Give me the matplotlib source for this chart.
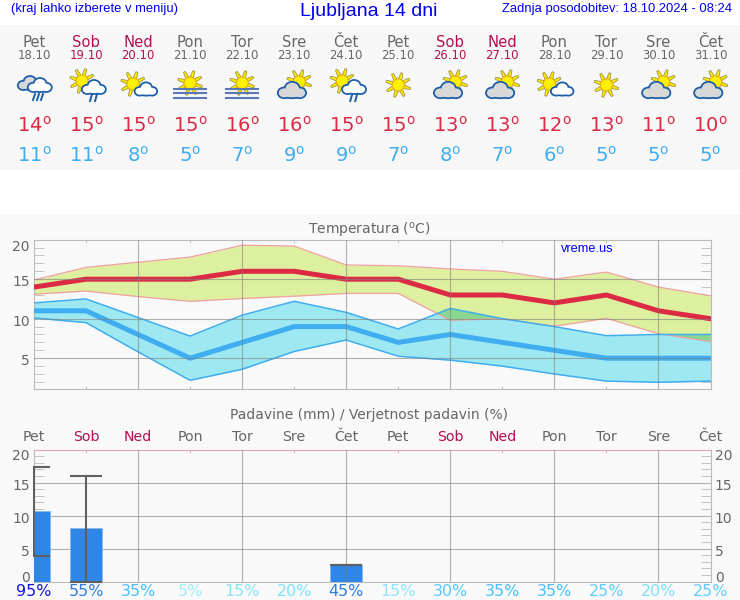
#!/usr/bin/env python3
"""
Ljubljana 14 day forecast: icons, temperature bands and precipitation
"""

import numpy as np
import matplotlib
matplotlib.use('Agg')
import matplotlib.pyplot as plt
from matplotlib.patches import Circle, Ellipse, Polygon, Rectangle
from matplotlib.transforms import Bbox, ScaledTranslation

W, H = 740, 600

days = ['Pet', 'Sob', 'Ned', 'Pon', 'Tor', 'Sre', 'Čet',
        'Pet', 'Sob', 'Ned', 'Pon', 'Tor', 'Sre', 'Čet']
dates = ['18.10', '19.10', '20.10', '21.10', '22.10', '23.10', '24.10',
         '25.10', '26.10', '27.10', '28.10', '29.10', '30.10', '31.10']
icons = ['rain', 'sunrain', 'suncloud', 'fog', 'fog', 'cloudsun', 'sunrain',
         'sun', 'cloudsun', 'cloudsun', 'suncloud', 'sun', 'cloudsun', 'cloudsun']

t_max = [14, 15, 15, 15, 16, 16, 15, 15, 13, 13, 12, 13, 11, 10]
t_min = [11, 11, 8, 5, 7, 9, 9, 7, 8, 7, 6, 5, 5, 5]
t_max_hi = [14.9, 16.5, 17.15, 17.8, 19.3, 19.2, 16.8, 16.7, 16.3, 16.0, 15.0, 15.9, 14.0, 12.9]
t_max_lo = [13.1, 13.5, 12.8, 12.2, 12.55, 12.85, 13.2, 13.2, 9.8, 10.0, 9.05, 10.05, 8.1, 7.1]
t_min_hi = [12.0, 12.5, 10.15, 7.8, 10.45, 12.2, 10.8, 8.7, 11.3, 10.0, 9.0, 7.85, 8.0, 8.0]
t_min_lo = [10.1, 9.5, 5.8, 2.2, 3.6, 5.85, 7.3, 5.25, 4.75, 4.0, 3.0, 2.1, 1.95, 2.1]

rain = [10.7, 8.1, 0, 0, 0, 0, 2.6, 0, 0, 0, 0, 0, 0, 0]
rain_hi = [17.3, 16.0, 0, 0, 0, 0, 2.6, 0, 0, 0, 0, 0, 0, 0]
rain_lo = [3.9, 0, 0, 0, 0, 0, 2.6, 0, 0, 0, 0, 0, 0, 0]
rain_prob = [95, 55, 35, 5, 15, 20, 45, 15, 30, 35, 35, 25, 20, 25]
prob_colors = {95: '#1414d8', 55: '#2e7ce4', 45: '#2e7ce4', 35: '#48c0fa', 30: '#55c8fc',
               25: '#62ccfc', 20: '#80e0fa', 15: '#8ae4f8', 5: '#a0ecf8'}

GREY = '#666666'
WEEKEND = '#b30e52'
RED = '#dc2a45'
BLUE = '#3fadf0'
X0, X1 = 34, 710.5


def day_color(name):
    return WEEKEND if name in ('Sob', 'Ned') else GREY


def add_axes(top, bottom):
    ax = fig.add_axes([X0 / W, 1 - bottom / H, (X1 - X0) / W, (bottom - top) / H])
    ax.set_facecolor('none')
    ax.set_xlim(0, 13)
    ax.set_axisbelow(True)
    for s in ax.spines.values():
        s.set_color('#bbbbbb')
    ax.set_xticks(np.arange(0, 14, 2))
    ax.set_xticks(np.arange(1, 14, 2), minor=True)
    ax.tick_params(axis='x', which='major', length=0, labelbottom=False)
    for v in np.arange(2, 13, 2):
        ax.axvline(v, color='#808080', alpha=0.6, lw=0.8, zorder=6)
    return ax


def y_ticks(ax, major, minor, grid_z, both=False):
    ax.set_yticks(major)
    ax.set_yticks(minor, minor=True)
    ax.set_yticklabels([str(v) for v in major])
    for v in (5, 10, 15):
        ax.axhline(v, color='#808080', alpha=0.6, lw=0.8, zorder=grid_z)
    ax.tick_params(axis='y', which='major', length=0, labelsize=10, labelcolor=GREY, pad=3,
                   labelright=both)
    ax.tick_params(axis='y', which='minor', direction='in', length=7, width=0.7,
                   color='#c4c4c4', left=True, right=True)
    # labels at the ends stay inside the frame, the others sit a bit low
    for tick in ax.yaxis.get_major_ticks():
        v = tick.get_loc()
        for lab in (tick.label1, tick.label2):
            if v == major[-1]:
                lab.set_va('top')
            elif v == 0:
                lab.set_va('bottom')
                lab.set_transform(lab.get_transform() + ScaledTranslation(0, -3 / 100, fig.dpi_scale_trans))
            else:
                lab.set_transform(lab.get_transform() + ScaledTranslation(0, -1.5 / 100, fig.dpi_scale_trans))


def draw_sun(c, x, y, r):
    p = np.array([x, y])
    for a in np.arange(0, 2 * np.pi, np.pi / 4) + 0.3:
        d = np.array([np.cos(a), np.sin(a)])
        n = np.array([-d[1], d[0]])
        c.add_patch(Polygon([p + d * r + n * 1.8, p + d * r * 2.1 + n * 1.0,
                             p + d * r * 2.1 - n * 1.0, p + d * r - n * 1.8],
                            fc='#f8e800', ec='#908850', lw=0.5, zorder=3))
    c.add_patch(Circle((x, y), r, fc='#fff000', ec='#f0a800', lw=0.6, zorder=4))


def draw_cloud(c, x, y, s, fill, zorder=5):
    # outline first, then the same lobes again in fill colour
    lobes = [(-8.5, 3, 6, 5), (0, -1, 7.5, 7), (8, 3, 6, 5), (0, 4, 11, 4)]
    for dx, dy, w, h in lobes:
        c.add_patch(Ellipse((x + dx * s, y + dy * s), 2 * w * s + 3, 2 * h * s + 3,
                            fc='#1c5ea8', ec='none', zorder=zorder))
    for dx, dy, w, h in lobes:
        c.add_patch(Ellipse((x + dx * s, y + dy * s), 2 * w * s - 0.6, 2 * h * s - 0.6,
                            fc=fill, ec='none', zorder=zorder + 0.1))


def draw_icon(c, kind, x, y):
    if kind == 'sun':
        draw_sun(c, x, y - 1, 6)
    elif kind == 'suncloud':
        draw_sun(c, x - 5, y - 2, 6)
        draw_cloud(c, x + 8, y + 3, 0.75, 'white')
    elif kind == 'cloudsun':
        draw_sun(c, x + 5, y - 4, 6)
        draw_cloud(c, x - 2, y + 4, 0.95, '#d8d8d8')
    elif kind == 'sunrain':
        draw_sun(c, x - 4, y - 5, 6)
        draw_cloud(c, x + 8, y + 1, 0.8, 'white')
        for dx in (5, 10):
            c.plot([x + dx + 1, x + dx - 1], [y + 8, y + 15], color='#1c5ea8', lw=1.4, zorder=6)
    elif kind == 'rain':
        draw_cloud(c, x - 4, y - 3, 0.8, '#d8d8d8')
        draw_cloud(c, x + 6, y - 1, 0.8, 'white', zorder=7)
        for dx in (0, 4, 8):
            c.plot([x + dx + 1, x + dx - 1], [y + 8, y + 14], color='#1c5ea8', lw=1.4, zorder=8)
    elif kind == 'fog':
        draw_sun(c, x, y - 3, 6)
        for dy in (3, 7, 12):
            c.plot([x - 16, x + 16], [y + dy, y + dy], color='#5a78b4', lw=1.5, zorder=6)


fig = plt.figure(figsize=(W / 100, H / 100), dpi=100, facecolor='white')

# pixel canvas for panels, header text and icons
canvas = fig.add_axes([0, 0, 1, 1])
canvas.set_xlim(0, W)
canvas.set_ylim(H, 0)
canvas.axis('off')
canvas.add_patch(Rectangle((0, 25), W, 145, fc='#f7f7f7', ec='none', zorder=0))
canvas.add_patch(Rectangle((0, 215), W, 385, fc='#f9f9f9', ec='none', zorder=0))

canvas.text(11, 9, '(kraj lahko izberete v meniju)', family='Liberation Sans', fontsize=9.4,
            color='#0000ee', va='center', ha='left')
canvas.text(369, 11, 'Ljubljana 14 dni', family='Liberation Sans', fontsize=14,
            color='#0000ee', va='center', ha='center')
canvas.text(732, 9, 'Zadnja posodobitev: 18.10.2024 - 08:24', family='Liberation Sans', fontsize=9.4,
            color='#0000ee', va='center', ha='right')

col_x = X0 + np.arange(14) * (X1 - X0) / 13
for i, x in enumerate(col_x):
    canvas.text(x, 42.7, days[i], fontsize=10.6, color=day_color(days[i]), ha='center', va='center')
    canvas.text(x, 55.7, dates[i], fontsize=8.4, color=day_color(days[i]), ha='center', va='center')
    canvas.text(x, 126, r'%d$^{\mathrm{o}}$' % t_max[i], fontsize=14, color=RED, ha='center', va='center')
    canvas.text(x, 156, r'%d$^{\mathrm{o}}$' % t_min[i], fontsize=14, color=BLUE, ha='center', va='center')
    draw_icon(canvas, icons[i], x, 86)

canvas.text(369.5, 230, r'Temperatura ($^{\mathrm{o}}$C)', fontsize=10, color=GREY, ha='center', va='center')
canvas.text(369.5, 415.5, 'Padavine (mm) / Verjetnost padavin (%)', fontsize=10, color=GREY, ha='center', va='center')

# temperature
x = np.arange(14)
hi_lo = np.array(t_max_lo)
lo_hi = np.array(t_min_hi)
ax = add_axes(239.7, 389)
ax.set_ylim(1.1, 20)
ax.fill_between(x, t_max_lo, t_max_hi, color='#dcf09f', lw=0, zorder=1)
ax.fill_between(x, t_min_lo, t_min_hi, color='#9ee8f1', lw=0, zorder=2)
ax.fill_between(x, hi_lo, lo_hi, where=lo_hi >= hi_lo, interpolate=True, color='#8ad890', lw=0, zorder=3)
ax.plot(x, t_max_hi, color='#f0a0a0', lw=0.9, zorder=4)
ax.plot(x, t_max_lo, color='#f0a0a0', lw=0.9, zorder=4)
ax.plot(x, t_min_hi, color=BLUE, lw=1.1, zorder=4)
ax.plot(x, t_min_lo, color=BLUE, lw=1.1, zorder=4)
ax.plot(x, t_max, color=RED, lw=3.6, zorder=5)
ax.plot(x, t_min, color=BLUE, lw=3.6, zorder=5)
y_ticks(ax, [5, 10, 15, 20], [i for i in range(2, 20) if i % 5], 6)
ax.tick_params(axis='x', which='minor', bottom=True, top=True, direction='in', length=2, color='#bbbbbb')
ax.text(561, 249, 'vreme.us', transform=canvas.transData, fontsize=9.2,
        family='Liberation Sans', color='#0000ee', va='center')

# precipitation
ax = add_axes(449.5, 581.7)
ax.set_ylim(0, 20)
ax.spines['top'].set_color('#e4a4c0')
ax.bar(x, rain, width=32 / 52, color='#2e86e8', edgecolor='#86b8ee', lw=0.6, zorder=3)
for i in np.nonzero(rain)[0]:
    bars = ax.errorbar(x[i], rain_hi[i], yerr=[[rain_hi[i] - rain_lo[i]], [0]], color='#606060',
                       elinewidth=1.5, capsize=11.5, capthick=1.5, zorder=7)
    # the frame cuts the first whisker only on its left side, one pixel out
    for art in bars.get_children():
        art.set_clip_box(Bbox([[33, 0], [W, H]]))
y_ticks(ax, [0, 5, 10, 15, 20], [i for i in range(1, 20) if i % 5], 1.5, both=True)
ax.tick_params(axis='x', which='minor', bottom=False, top=True, direction='in', length=2, color='#e4a4c0')

for i, cx in enumerate(col_x):
    canvas.text(cx, 437, days[i], fontsize=10.2, color=day_color(days[i]), ha='center', va='center')
    canvas.text(cx, 591, '%d%%' % rain_prob[i], fontsize=11.4, color=prob_colors[rain_prob[i]],
                ha='center', va='center')

fig.savefig('out.png', dpi=100, facecolor='white')
